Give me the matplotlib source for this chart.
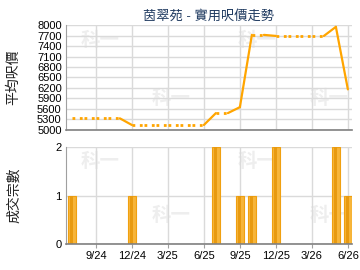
import matplotlib
matplotlib.use('Agg')
import matplotlib.pyplot as plt

plt.rcParams['font.family'] = ['Liberation Sans', 'Noto Sans CJK TC', 'DejaVu Sans']

# months counted from 6/24 (= 0)
months = [1, 2, 3, 4, 5, 6, 7, 8, 9, 10, 11, 12,
          13, 14, 15, 16, 17, 18, 19, 20, 21, 22, 23, 24]
prices = [5330, 5330, 5330, 5330, 5330, 5140, 5140, 5140, 5140, 5140, 5140, 5140,
          5480, 5480, 5650, 7720, 7720, 7690, 7690, 7690, 7690, 7690, 7950, 6160]
deals = [1, 0, 0, 0, 0, 1, 0, 0, 0, 0, 0, 0,
         2, 0, 1, 1, 0, 2, 0, 0, 0, 0, 2, 1]

tick_pos = [3, 6, 9, 12, 15, 18, 21, 24]
tick_labels = ['9/24', '12/24', '3/25', '6/25', '9/25', '12/25', '3/26', '6/26']
price_ticks = list(range(5000, 8001, 300))

title = '茵翠苑 - 實用呎價走勢'
line_color = '#ffa500'
grid_color = '#dadada'

fig = plt.figure(figsize=(3.6, 2.7), dpi=100)
ax1 = fig.add_axes([0.183, 0.519, 0.795, 0.388])
ax2 = fig.add_axes([0.183, 0.095, 0.795, 0.359])

for ax in (ax1, ax2):
    ax.set_xlim(0.5, 24.35)
    ax.set_xticks(tick_pos)
    ax.grid(True, color=grid_color, linewidth=1)
    ax.set_axisbelow(True)
    ax.spines['top'].set_visible(False)
    ax.spines['right'].set_visible(False)
    ax.spines['left'].set_color('#a0a0a0')
    ax.spines['bottom'].set_color('#808080')
    ax.spines['bottom'].set_linewidth(1.2)
    ax.tick_params(axis='y', length=0, labelsize=8, pad=3)
    ax.tick_params(axis='x', length=3, color='#a0a0a0', labelsize=8, pad=2)

# faint watermarks
for ax in (ax1, ax2):
    for xf, yf in [(0.05, 0.85), (0.6, 0.85), (0.3, 0.3), (0.85, 0.3)]:
        ax.text(xf, yf, '科一', transform=ax.transAxes, fontsize=14,
                fontweight='bold', color='#eeeeee', family=['Noto Sans CJK TC'],
                ha='left', va='center', zorder=0)

# price line: solid into months with deals, dotted when carried forward
for i in range(len(months) - 1):
    style = '-' if deals[i + 1] > 0 else ':'
    lw = 1.6 if style == '-' else 2.0
    ax1.plot(months[i:i + 2], prices[i:i + 2], linestyle=style,
             color=line_color, linewidth=lw, solid_capstyle='round')

ax1.set_ylim(5000, 8000)
ax1.set_yticks(price_ticks)
ax1.set_xticklabels([])
ax1.tick_params(axis='x', length=0)
ax1.set_title(title, fontsize=9.5, color='#1f3a60', pad=4)

bar_months = [m for m, d in zip(months, deals) if d > 0]
bar_vals = [d for d in deals if d > 0]
ax2.bar(bar_months, bar_vals, width=0.68, color='#f7b53a',
        edgecolor='#f0a010', linewidth=0.8)
ax2.bar(bar_months, bar_vals, width=0.25, color='#e89a10', linewidth=0)
ax2.set_ylim(0, 2)
ax2.set_yticks([0, 1, 2])
ax2.set_xticklabels(tick_labels)

fig.text(0.038, 0.715, '平均呎價', rotation=90, fontsize=10,
         ha='center', va='center', color='#222222')
fig.text(0.038, 0.278, '成交宗數', rotation=90, fontsize=10,
         ha='center', va='center', color='#222222')

fig.savefig('out.png', dpi=100)
